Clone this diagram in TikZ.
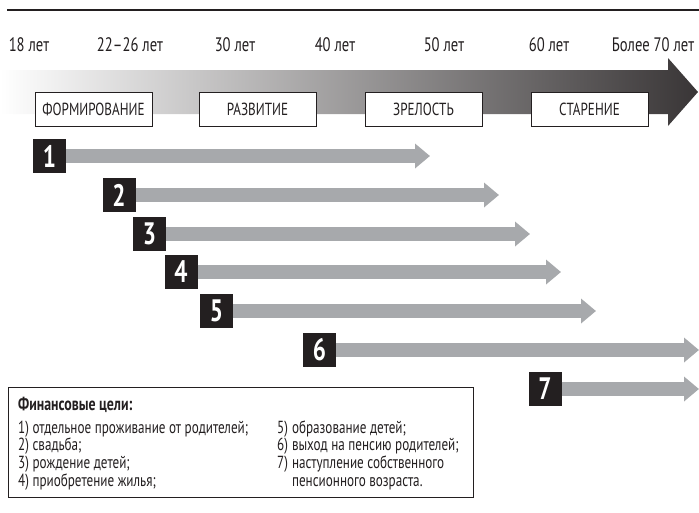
\documentclass[tikz,border=0pt]{standalone}
\usepackage{fontspec}
\setmainfont[FakeStretch=0.75]{PT Sans}
\usetikzlibrary{arrows.meta}
\definecolor{barGray}{HTML}{A7A9AC}
\definecolor{inkBlack}{HTML}{231F20}

\begin{document}
\begin{tikzpicture}[x=1pt, y=-1pt,
	ageLabel/.style={text=inkBlack, inner sep=0pt, font=\fontsize{19.5}{21}\selectfont},
	stageBox/.style={rectangle, draw=inkBlack, fill=white, line width=0.8pt, minimum width=117pt, minimum height=34pt, inner sep=0pt, text=inkBlack, font=\fontsize{17.5}{19}\selectfont},
	goalBox/.style={rectangle, fill=inkBlack, minimum width=33pt, minimum height=34pt, inner sep=0pt, text=white, font=\fontsize{31}{31}\selectfont\bfseries},
	goalArrow/.style={barGray, line width=14pt, -{Triangle[width=24pt, length=15pt]}},
	legendText/.style={anchor=base west, inner sep=0pt, text=inkBlack, font=\fontsize{17.5}{17.5}\selectfont}]

		\useasboundingbox (0,0) rectangle (699,512);

		\draw[inkBlack, line width=1.4pt] (7,10) -- (699,10);

		% age scale
		\node[ageLabel](age18) at (29,45){18 лет};
		\node[ageLabel](age22) at (130,45){22--26 лет};
		\node[ageLabel](age30) at (235,45){30 лет};
		\node[ageLabel](age40) at (335,45){40 лет};
		\node[ageLabel](age50) at (444,45){50 лет};
		\node[ageLabel](age60) at (549,45){60 лет};
		\node[ageLabel](age70) at (653,45){Более 70 лет};

		% life stages
		\shade[left color=white, right color=inkBlack!90] (0,70) -- (668,70) -- (668,58) -- (698,92) -- (668,126) -- (668,114) -- (0,114) -- cycle;

		\node[stageBox](formBox) at (93.5,109){ФОРМИРОВАНИЕ};
		\node[stageBox](devBox) at (257.5,109){РАЗВИТИЕ};
		\node[stageBox](matBox) at (423.5,109){ЗРЕЛОСТЬ};
		\node[stageBox](ageBox) at (589.5,109){СТАРЕНИЕ};

		% goals
		\node[goalBox](goal1Box) at (49.5,156){1};
		\node[goalBox](goal2Box) at (119,195){2};
		\node[goalBox](goal3Box) at (149.5,234){3};
		\node[goalBox](goal4Box) at (181,272){4};
		\node[goalBox](goal5Box) at (216.5,311){5};
		\node[goalBox](goal6Box) at (319.5,350){6};
		\node[goalBox](goal7Box) at (545,389){7};

		\coordinate (goal1End) at (430,156);
		\coordinate (goal2End) at (499,195);
		\coordinate (goal3End) at (530,234);
		\coordinate (goal4End) at (561,272);
		\coordinate (goal5End) at (596,311);
		\coordinate (goal6End) at (699,350);
		\coordinate (goal7End) at (699,389);

		\draw[goalArrow] (goal1Box.east) -- (goal1End);
		\draw[goalArrow] (goal2Box.east) -- (goal2End);
		\draw[goalArrow] (goal3Box.east) -- (goal3End);
		\draw[goalArrow] (goal4Box.east) -- (goal4End);
		\draw[goalArrow] (goal5Box.east) -- (goal5End);
		\draw[goalArrow] (goal6Box.east) -- (goal6End);
		\draw[goalArrow] (goal7Box.east) -- (goal7End);

		% legend
		\node[rectangle, draw=inkBlack, line width=0.8pt, minimum width=465pt, minimum height=110pt](legendBox) at (240.5,442){};
		\node[legendText, font=\fontsize{18.5}{19}\selectfont\bfseries](legendTitle) at (18,410){Финансовые цели:};
		\node[legendText](legendLeft) at (18,433){\begin{tabular}[t]{@{}l@{}}
			1) отдельное проживание от родителей;\\
			2) свадьба;\\
			3) рождение детей;\\
			4) приобретение жилья;
		\end{tabular}};
		\node[legendText](legendRight) at (277,433){\begin{tabular}[t]{@{}l@{\hspace{4pt}}l@{}}
			5) & образование детей;\\
			6) & выход на пенсию родителей;\\
			7) & наступление собственного\\
			   & пенсионного возраста.
		\end{tabular}};
	\end{tikzpicture}
\end{document}
